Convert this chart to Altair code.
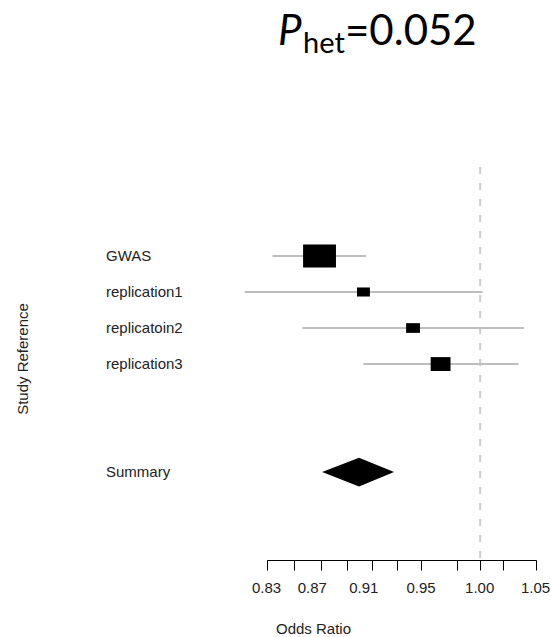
import altair as alt
import numpy as np
import pandas as pd

# Per-study odds ratios with 95% confidence limits
study = ["GWAS", "replication1", "replicatoin2", "replication3"]
odds_ratio = [0.869, 0.903, 0.943, 0.966]
ci_lower = [0.834, 0.814, 0.856, 0.903]
ci_upper = [0.905, 1.002, 1.039, 1.034]

# Pooled (fixed-effect) estimate
summary_label = "Summary"
summary_or = 0.8995
summary_lower = 0.871
summary_upper = 0.9275

p_het = "=0.052"
null_value = 1.0

tick_values = [0.83, 0.85, 0.87, 0.89, 0.91, 0.93, 0.95, 0.98, 1.00, 1.02, 1.05]
tick_labels = ["0.83", "0.87", "0.91", "0.95", "1.00", "1.05"]

# Table layout: the studies, two blank rows, then the summary line
table_rows = study + ["", ""] + [summary_label]
summary_row = len(table_rows)

studies = pd.DataFrame({
    "label": study,
    "row": np.arange(1, len(study) + 1),
    "or": odds_ratio,
    "lower": ci_lower,
    "upper": ci_upper,
})
# box area proportional to inverse variance
se = (np.log(studies["upper"]) - np.log(studies["lower"])) / (2 * 1.96)
studies["weight"] = 1.0 / se ** 2

labels = pd.DataFrame({
    "label": [t for t in table_rows if t],
    "row": [i + 1 for i, t in enumerate(table_rows) if t],
})

diamond = pd.DataFrame({
    "x": [summary_lower, summary_or, summary_upper],
    "half": [0.0, 1.0, 0.0],
    "row": [summary_row] * 3,
})
diamond["top"] = diamond["row"] - 0.40 * diamond["half"]
diamond["bottom"] = diamond["row"] + 0.40 * diamond["half"]

ref = pd.DataFrame({"x": [null_value]})

FONT = "Liberation Sans"
TITLE_FONT = "Lato"

label_test = "indexof(" + str(tick_labels) + ", format(datum.value, '.2f')) >= 0"
x_scale = alt.Scale(type="log", domain=[0.83, 1.05], nice=False)
y_scale = alt.Scale(domain=[-1.47, 9.44], reverse=True, nice=False, zero=False)

x_axis = alt.Axis(
    values=tick_values,
    labelExpr=label_test + " ? format(datum.value, '.2f') : ''",
    labelOffset={"condition": {"test": "format(datum.value, '.2f') == '0.87' || format(datum.value, '.2f') == '0.91'",
                               "value": -9}, "value": -1},
    grid=False,
    domainColor="#000000",
    tickColor="#000000",
    tickSize=10,
    labelPadding=10,
    labelFont=FONT,
    labelFontSize=15,
    labelColor="#222222",
    labelFlush=False,
    labelOverlap=False,
    title="Odds Ratio",
    titleFont=FONT,
    titleFontSize=15,
    titleFontWeight="normal",
    titleColor="#222222",
    titleX=46,
    titleY=68,
    titleAlign="center",
    titleBaseline="middle",
)

base_x = alt.X("x:Q", scale=x_scale, axis=x_axis)

refline = alt.Chart(ref).mark_rule(
    color="#cccccc", strokeWidth=2, strokeDash=[7, 9]
).encode(x=base_x)

ci = alt.Chart(studies).mark_rule(color="#bdbdbd", strokeWidth=2).encode(
    x=alt.X("lower:Q", scale=x_scale, axis=x_axis),
    x2="upper:Q",
    y=alt.Y("row:Q", scale=y_scale, axis=None),
)

boxes = alt.Chart(studies).mark_point(
    shape="M-1.43,-1L1.43,-1L1.43,1L-1.43,1Z",
    filled=True, color="#000000", opacity=1, strokeWidth=0,
).encode(
    x=alt.X("or:Q", scale=x_scale, axis=x_axis),
    y=alt.Y("row:Q", scale=y_scale, axis=None),
    size=alt.Size("weight:Q", scale=alt.Scale(domain=[0, float(studies["weight"].max())],
                                              range=[0, 529]), legend=None),
)

summary = alt.Chart(diamond).mark_area(color="#000000", orient="vertical").encode(
    x=alt.X("x:Q", scale=x_scale, axis=x_axis),
    y=alt.Y("top:Q", scale=y_scale, axis=None),
    y2="bottom:Q",
)

row_text = alt.Chart(labels).mark_text(
    align="left", baseline="middle", font=FONT, fontSize=15, color="#222222"
).encode(
    x=alt.value(-161),
    y=alt.Y("row:Q", scale=y_scale, axis=None),
    text="label:N",
)

one = pd.DataFrame({"k": [0]})
y_title = alt.Chart(one).mark_text(
    text="Study Reference", angle=270, align="center", baseline="middle",
    font=FONT, fontSize=15, color="#222222",
).encode(x=alt.value(-244.5), y=alt.value(192))

p_main = alt.Chart(one).mark_text(
    text="P", align="left", baseline="alphabetic", font=TITLE_FONT,
    fontSize=42, fontStyle="italic", color="#000000",
).encode(x=alt.value(11), y=alt.value(-122))
p_sub = alt.Chart(one).mark_text(
    text="het", align="left", baseline="alphabetic", font=TITLE_FONT,
    fontSize=29, color="#000000",
).encode(x=alt.value(36), y=alt.value(-114))
p_val = alt.Chart(one).mark_text(
    text=p_het, align="left", baseline="alphabetic", font=TITLE_FONT,
    fontSize=42, color="#000000",
).encode(x=alt.value(78), y=alt.value(-122))

chart = alt.layer(
    refline, ci, boxes, summary, row_text, y_title, p_main, p_sub, p_val
).properties(
    width=269,
    height=393,
    autosize=alt.AutoSizeParams(type="none"),
    padding={"left": 267, "top": 167, "right": 15, "bottom": 77},
    background="#ffffff",
).configure_view(stroke=None)

chart.save("out.html", embed_options={"renderer": "svg", "actions": False})
